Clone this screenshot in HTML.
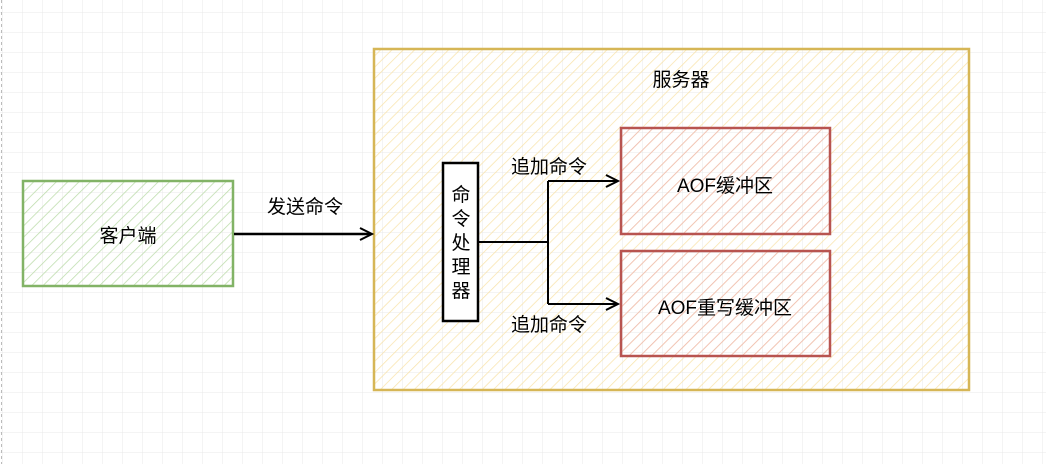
<!DOCTYPE html>
<html><head><meta charset="utf-8"><style>
html,body{margin:0;padding:0;background:#fff;}
svg{display:block;}
text{font-family:"Liberation Sans","Noto Sans CJK SC",sans-serif;font-size:19px;fill:#000;}
</style></head><body>
<svg width="1046" height="464" viewBox="0 0 1046 464" xmlns="http://www.w3.org/2000/svg">
<defs>
<pattern id="grid" width="20" height="20" patternUnits="userSpaceOnUse" x="3" y="13">
<path d="M20 0V20M0 20H20" fill="none" stroke="#e8e8e8" stroke-width="1"/>
</pattern>
<pattern id="hg" width="8" height="8" patternUnits="userSpaceOnUse" patternTransform="rotate(45)">
<line x1="0" y1="0" x2="0" y2="8" stroke="#bcdcaa" stroke-width="1.5"/>
</pattern>
<pattern id="hy" width="8" height="8" patternUnits="userSpaceOnUse" patternTransform="rotate(45)">
<line x1="0" y1="0" x2="0" y2="8" stroke="#f9e4ac" stroke-width="1.5"/>
</pattern>
<pattern id="hr" width="8" height="8" patternUnits="userSpaceOnUse" patternTransform="rotate(45)">
<line x1="0" y1="0" x2="0" y2="8" stroke="#efb9b4" stroke-width="1.5"/>
</pattern>
</defs>
<rect width="1046" height="464" fill="url(#grid)"/>
<line x1="1.5" y1="0" x2="1.5" y2="464" stroke="#bbb" stroke-dasharray="3,3"/>

<rect x="23" y="181" width="210" height="105" fill="url(#hg)" stroke="#82b366" stroke-width="2.5"/>
<text x="128" y="242" text-anchor="middle">客户端</text>

<rect x="374" y="49" width="595" height="341" fill="url(#hy)" stroke="#d6b656" stroke-width="2.5"/>
<text x="681" y="86" text-anchor="middle">服务器</text>

<line x1="234" y1="234" x2="370" y2="234" stroke="#000" stroke-width="2.5"/>
<path d="M360 228 L372 234 L360 240" fill="none" stroke="#000" stroke-width="2"/>
<text x="305" y="213" text-anchor="middle">发送命令</text>

<rect x="443" y="163" width="35" height="158" fill="#fff" stroke="#000" stroke-width="2.5"/>
<text x="461" y="201" text-anchor="middle">命</text>
<text x="461" y="225" text-anchor="middle">令</text>
<text x="461" y="249" text-anchor="middle">处</text>
<text x="461" y="273" text-anchor="middle">理</text>
<text x="461" y="297" text-anchor="middle">器</text>

<path d="M478 242 H548 M548 181 V304 M548 181 H616 M548 304 H616" fill="none" stroke="#000" stroke-width="2"/>
<path d="M606 175 L618 181 L606 187 M606 298 L618 304 L606 310" fill="none" stroke="#000" stroke-width="2"/>
<text x="549" y="173" text-anchor="middle">追加命令</text>
<text x="549" y="331" text-anchor="middle">追加命令</text>

<rect x="621" y="128" width="209" height="106" fill="url(#hr)" stroke="#b85450" stroke-width="2.5"/>
<text x="725" y="192" text-anchor="middle">AOF缓冲区</text>
<rect x="621" y="251" width="209" height="105" fill="url(#hr)" stroke="#b85450" stroke-width="2.5"/>
<text x="725" y="314" text-anchor="middle">AOF重写缓冲区</text>
</svg>
</body></html>
